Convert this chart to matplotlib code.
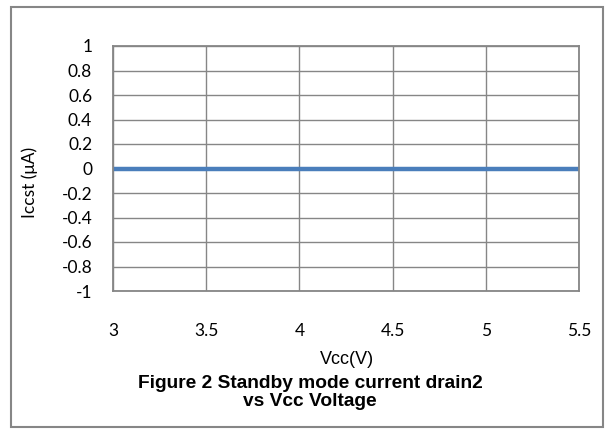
import matplotlib
matplotlib.use('Agg')
import matplotlib.pyplot as plt
from matplotlib.patches import Rectangle

vcc = [3, 3.5, 4, 4.5, 5, 5.5]
iccst = [0, 0, 0, 0, 0, 0]
xticks = [3, 3.5, 4, 4.5, 5, 5.5]
yticks = [-1, -0.8, -0.6, -0.4, -0.2, 0, 0.2, 0.4, 0.6, 0.8, 1]

plt.rcParams['font.family'] = ['Lato', 'DejaVu Sans']

W, H = 607, 430
fig = plt.figure(figsize=(W / 100, H / 100), dpi=100)
ax = fig.add_axes([113 / W, 1 - 291 / H, (579 - 113) / W, (291 - 46) / H])

ax.plot(vcc, iccst, color='#4A7EBB', lw=3.2, solid_capstyle='butt')
ax.set_xlim(3, 5.5)
ax.set_ylim(-1, 1)
ax.set_xticks(xticks)
ax.set_yticks(yticks)
ax.set_xticklabels([f'{t:g}' for t in xticks])
ax.set_yticklabels([f'{t:g}' for t in yticks])
ax.grid(True, color='#868686', lw=1)
ax.set_axisbelow(True)
for s in ax.spines.values():
    s.set_color('#868686')
    s.set_linewidth(1.3)
ax.tick_params(axis='both', length=0, labelsize=12.5, labelcolor='black')
ax.tick_params(axis='y', pad=15)
ax.tick_params(axis='x', pad=23)

fig.text(30 / W, 1 - 182 / H, 'Iccst (μA)', rotation=90, ha='center', va='center', fontsize=12.5)
fig.text(347 / W, 1 - 359 / H, 'Vcc(V)', ha='center', va='center', fontsize=13,
         family=['Liberation Sans'])
fig.text(310 / W, 1 - 384 / H, 'Figure 2 Standby mode current drain2', ha='center', va='center',
         fontsize=13.8, fontweight='bold', family=['Liberation Sans'])
fig.text(310 / W, 1 - 402 / H, 'vs Vcc Voltage', ha='center', va='center',
         fontsize=13.8, fontweight='bold', family=['Liberation Sans'])

fig.patches.append(Rectangle((11 / W, 1 - 427 / H), 592 / W, 420 / H, transform=fig.transFigure,
                             fill=False, edgecolor='#868686', lw=1.5))

fig.savefig('out.png', dpi=100)
